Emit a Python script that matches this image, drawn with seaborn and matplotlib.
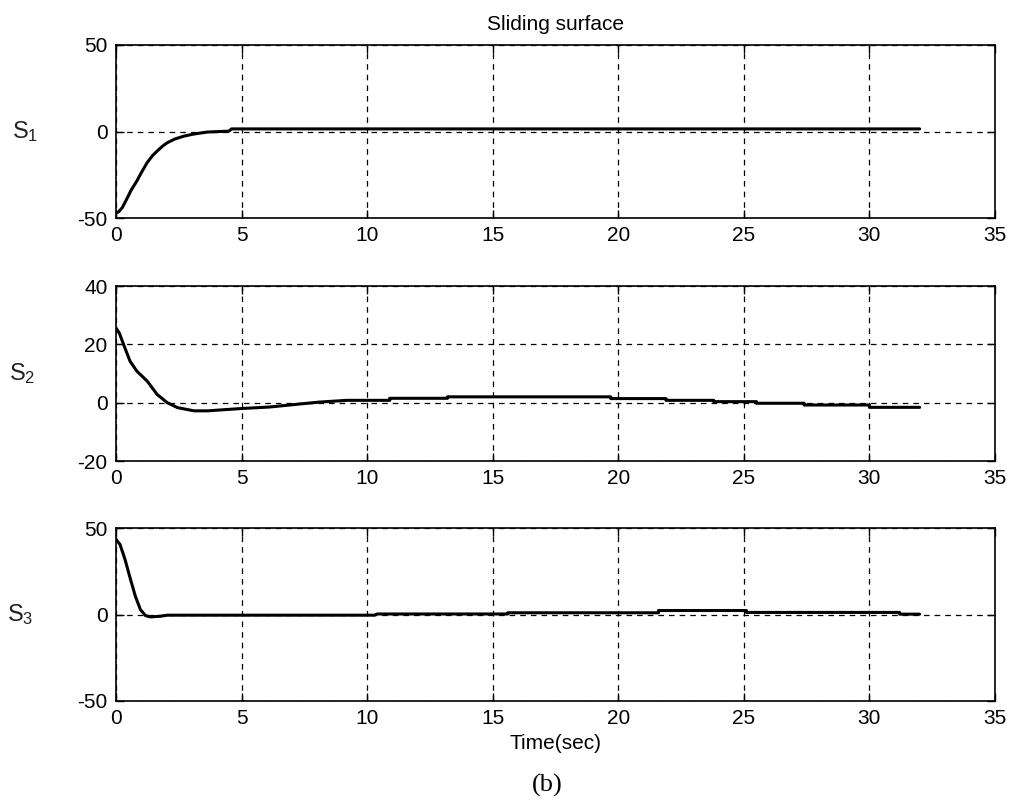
import matplotlib
matplotlib.use("Agg")
import matplotlib.pyplot as plt
import seaborn as sns
import pandas as pd

# Sliding surface trajectories (time in seconds)
t1 = [0, 0.1, 0.25, 0.43, 0.6, 0.83, 1.0, 1.24, 1.45, 1.64, 1.85, 2.04, 2.35, 2.7,
      3.05, 3.4, 3.65, 4.5, 4.6, 32]
s1 = [-47, -46.5, -44, -39, -34, -28.6, -24, -18, -14, -11.3, -8.5, -6.5, -4.3, -2.7,
      -1.6, -0.8, -0.3, 0.2, 1.5, 1.5]

t2 = [0, 0.13, 0.3, 0.56, 0.83, 1.24, 1.64, 2.04, 2.45, 3.1, 3.65, 5.0, 6.1, 7.15,
      8.1, 9.2, 10.9, 10.9, 13.2, 13.2, 19.7, 19.7, 21.9, 21.9, 23.8, 23.8, 25.5,
      25.5, 27.4, 27.4, 30.0, 30.0, 32]
s2 = [25.6, 23.9, 20, 14.2, 10.8, 7.4, 2.8, 0, -1.7, -2.8, -2.8, -2.0, -1.5, -0.6,
      0.2, 0.8, 0.8, 1.5, 1.5, 2.0, 2.0, 1.4, 1.4, 0.8, 0.8, 0.35, 0.35,
      -0.2, -0.2, -0.8, -0.8, -1.6, -1.6]

t3 = [0, 0.16, 0.36, 0.56, 0.77, 0.97, 1.17, 1.37, 1.77, 2.04, 10.3, 10.4, 15.6,
      15.6, 21.6, 21.6, 25.1, 25.1, 31.2, 31.2, 32]
s3 = [43.4, 40.5, 31.8, 21.2, 10.6, 2.9, -0.6, -1.4, -1.0, -0.4, -0.4, 0.3, 0.3,
      1.0, 1.0, 2.3, 2.3, 1.2, 1.2, 0.2, 0.2]

x_ticks = [0, 5, 10, 15, 20, 25, 30, 35]
y_ticks = [[-50, 0, 50], [-20, 0, 20, 40], [-50, 0, 50]]
y_labels = [r"$\mathregular{S_1}$", r"$\mathregular{S_2}$", r"$\mathregular{S_3}$"]

sns.set_theme(style="white")
plt.rcParams["font.family"] = ["Liberation Sans", "DejaVu Sans"]
plt.rcParams["mathtext.fontset"] = "custom"
plt.rcParams["mathtext.rm"] = "Liberation Sans"
plt.rcParams["axes.unicode_minus"] = False

fig = plt.figure(figsize=(10.11, 8.09), dpi=100)
W, H = 1011, 809
left, right = 116, 995
rows = [(45, 218), (286, 461), (528, 701)]
label_x = [25, 22, 20]

series = [(t1, s1), (t2, s2), (t3, s3)]
axes = []
for i, ((top, bot), (tt, ss)) in enumerate(zip(rows, series)):
    ax = fig.add_axes([left / W, 1 - bot / H, (right - left) / W, (bot - top) / H])
    df = pd.DataFrame({"t": tt, "s": ss})
    sns.lineplot(data=df, x="t", y="s", ax=ax, color="black", linewidth=2.2,
                 estimator=None, sort=False, zorder=3)
    ax.set_xlim(0, 35)
    ax.set_ylim(y_ticks[i][0], y_ticks[i][-1])
    ax.set_xticks(x_ticks)
    ax.set_yticks(y_ticks[i])
    ax.grid(True, color="black", linestyle=(0, (4.5, 4)), linewidth=0.9, zorder=1)
    ax.set_axisbelow(True)
    for sp in ax.spines.values():
        sp.set_color("black")
        sp.set_linewidth(1.2)
    ax.tick_params(axis="both", direction="in", length=6, width=1, color="black",
                   labelsize=15, labelcolor="black", top=True, right=True,
                   bottom=True, left=True)
    ax.tick_params(axis="x", pad=5.8)
    ax.tick_params(axis="y", pad=6)
    ax.set_xlabel("")
    ax.set_ylabel(y_labels[i], rotation=0, fontsize=17, color="#222222",
                  ha="center", va="center")
    ax.yaxis.set_label_coords((label_x[i] - left) / (right - left), 0.5)
    axes.append(ax)

axes[0].set_title("Sliding surface", fontsize=15, color="black", pad=10.8)
axes[2].set_xlabel("Time(sec)", fontsize=15, color="black", labelpad=4)
fig.text(547 / W, 1 - 785 / H, "(b)", fontsize=19, family="Liberation Serif",
         ha="center", va="center", color="black")

fig.savefig("out.png", dpi=100, facecolor="white")
